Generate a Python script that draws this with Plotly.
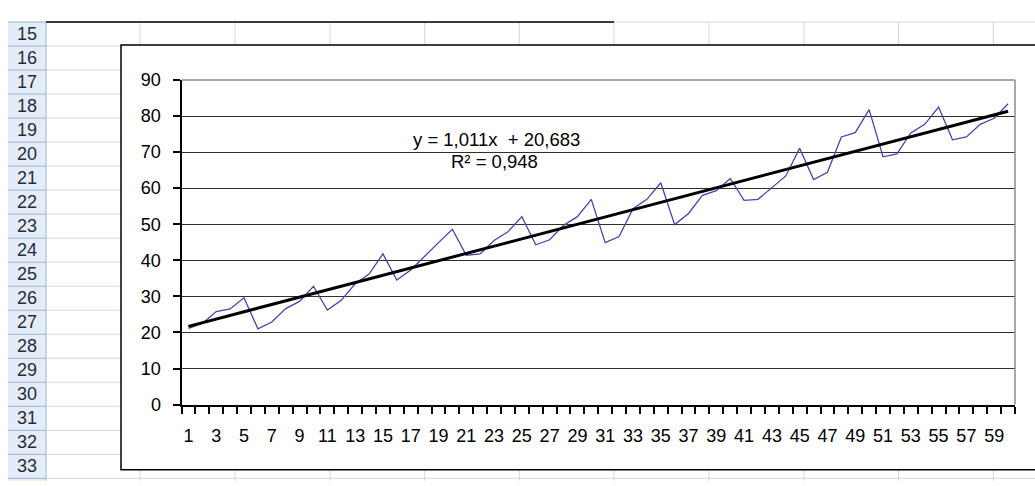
import numpy as np
import plotly.graph_objects as go

# ---- data -------------------------------------------------------------
periods = list(range(1, 61))
values = [
    21.1, 22.5, 25.8, 26.5, 29.6, 21.0, 22.9, 26.6, 28.6, 32.8,
    26.2, 28.9, 33.5, 36.2, 41.8, 34.5, 37.3, 41.2, 44.9, 48.6,
    41.4, 41.8, 45.5, 47.9, 52.1, 44.3, 45.7, 49.7, 52.1, 56.9,
    44.9, 46.6, 54.3, 56.9, 61.5, 49.9, 53.0, 58.0, 59.3, 62.7,
    56.6, 56.9, 60.2, 63.4, 71.1, 62.4, 64.4, 74.2, 75.4, 81.8,
    68.7, 69.5, 75.3, 77.7, 82.5, 73.4, 74.2, 77.7, 79.4, 83.4,
]
trend_slope = 1.011
trend_intercept = 20.683
r_squared = 0.948
x_tick_labels = list(range(1, 60, 2))
y_tick_values = list(range(0, 91, 10))
row_numbers = list(range(15, 34))

# ---- page geometry (pixels) --------------------------------------------
W, H = 1035, 486
FONT = "Liberation Sans, Arial, sans-serif"


def px(x):
    return x / W


def py(y):
    return 1 - y / H


PLOT_L, PLOT_R, PLOT_T, PLOT_B = 181.5, 1015, 73, 411.5
ROW_TOP, ROW_H = 12.5, 25.05
HDR_L, HDR_R = 8, 46
col_lines = [140, 235, 330, 424.7, 519.3, 614, 709, 804, 898.5, 993.3]

shapes = []
# worksheet: row header strip
shapes.append(dict(type="rect", xref="paper", yref="paper",
                   x0=px(HDR_L), x1=px(HDR_R), y0=py(H + 5), y1=py(ROW_TOP),
                   fillcolor="#E4ECF7", line=dict(width=0), layer="below"))
# row separators
for k in range(len(row_numbers) + 1):
    yb = ROW_TOP + ROW_H * k
    shapes.append(dict(type="line", xref="paper", yref="paper",
                       x0=px(HDR_L), x1=px(HDR_R), y0=py(yb), y1=py(yb),
                       line=dict(color="#9EB6CE", width=1), layer="below"))
    shapes.append(dict(type="line", xref="paper", yref="paper",
                       x0=px(HDR_R), x1=px(W + 5), y0=py(yb), y1=py(yb),
                       line=dict(color="#D0D7E5", width=1), layer="below"))
# column separators
for xc in col_lines:
    shapes.append(dict(type="line", xref="paper", yref="paper",
                       x0=px(xc), x1=px(xc), y0=py(ROW_TOP), y1=py(H + 5),
                       line=dict(color="#D0D7E5", width=1), layer="below"))
# header right edge
shapes.append(dict(type="line", xref="paper", yref="paper",
                   x0=px(HDR_R), x1=px(HDR_R), y0=py(ROW_TOP), y1=py(H + 5),
                   line=dict(color="#9EB6CE", width=1), layer="below"))
# bordered cell range along the top
shapes.append(dict(type="line", xref="paper", yref="paper",
                   x0=px(HDR_R), x1=px(614), y0=py(ROW_TOP), y1=py(ROW_TOP),
                   line=dict(color="#000000", width=1.5), layer="below"))
# chart area
shapes.append(dict(type="rect", xref="paper", yref="paper",
                   x0=px(121), x1=px(W + 10), y0=py(479.5), y1=py(36.5),
                   fillcolor="#FFFFFF", line=dict(color="#000000", width=1.5),
                   layer="below"))
# plot area border (top and right)
shapes.append(dict(type="line", xref="paper", yref="paper",
                   x0=px(PLOT_L), x1=px(PLOT_R), y0=py(PLOT_T), y1=py(PLOT_T),
                   line=dict(color="#8C8C8C", width=1.5), layer="above"))
shapes.append(dict(type="line", xref="paper", yref="paper",
                   x0=px(PLOT_R), x1=px(PLOT_R), y0=py(PLOT_T), y1=py(PLOT_B),
                   line=dict(color="#8C8C8C", width=1.5), layer="above"))

annotations = []
for k, r in enumerate(row_numbers):
    yc = ROW_TOP + ROW_H * (k + 0.5)
    annotations.append(dict(xref="paper", yref="paper", x=px(27), y=py(yc),
                            text=str(r), showarrow=False,
                            xanchor="center", yanchor="middle",
                            font=dict(family=FONT, size=18, color="#1F2C44")))

eq_text = f"y = {trend_slope:.3f}x  + {trend_intercept:.3f}".replace(".", ",")
r2_text = f"R² = {r_squared:.3f}".replace(".", ",")
annotations.append(dict(xref="paper", yref="paper", x=px(496.5), y=py(135),
                        text=eq_text, showarrow=False, xanchor="center",
                        yanchor="middle",
                        font=dict(family=FONT, size=18.5, color="#000000")))
annotations.append(dict(xref="paper", yref="paper", x=px(494.5), y=py(158),
                        text=r2_text, showarrow=False, xanchor="center",
                        yanchor="middle",
                        font=dict(family=FONT, size=18.5, color="#000000")))

# ---- traces -----------------------------------------------------------
x_arr = np.array(periods, dtype=float)
trend = trend_slope * x_arr + trend_intercept

fig = go.Figure()
fig.add_trace(go.Scatter(x=periods, y=values, mode="lines",
                         line=dict(color="#4646AA", width=1.3),
                         hoverinfo="x+y", showlegend=False))
fig.add_trace(go.Scatter(x=periods, y=trend, mode="lines",
                         line=dict(color="#000000", width=3),
                         hoverinfo="skip", showlegend=False))

fig.update_layout(
    width=W, height=H,
    margin=dict(l=0, r=0, t=0, b=0),
    paper_bgcolor="#FFFFFF",
    plot_bgcolor="rgba(0,0,0,0)",
    showlegend=False,
    shapes=shapes,
    annotations=annotations,
    font=dict(family=FONT, size=18, color="#000000"),
    xaxis=dict(
        domain=[px(PLOT_L), px(PLOT_R)],
        range=[0.5, 60.5],
        tickmode="array",
        tickvals=x_tick_labels,
        ticktext=[str(v) for v in x_tick_labels],
        ticks="",
        ticklabelstandoff=14,
        showgrid=False,
        zeroline=False,
        showline=True, linecolor="#000000", linewidth=2,
        tickfont=dict(family=FONT, size=18, color="#000000"),
        minor=dict(tickmode="array",
                   tickvals=[v + 0.5 for v in range(0, 61)],
                   ticks="outside", ticklen=7, tickwidth=1.5,
                   tickcolor="#000000", showgrid=False),
        fixedrange=True,
    ),
    yaxis=dict(
        domain=[py(PLOT_B), py(PLOT_T)],
        range=[0, 90],
        tickmode="array",
        tickvals=y_tick_values,
        ticks="outside", ticklen=7, tickwidth=1.5, tickcolor="#000000",
        ticklabelstandoff=8,
        showgrid=True, gridcolor="#303030", gridwidth=1.4,
        zeroline=False,
        showline=True, linecolor="#000000", linewidth=2,
        tickfont=dict(family=FONT, size=18, color="#000000"),
        fixedrange=True,
    ),
)

fig.write_html("out.html")
